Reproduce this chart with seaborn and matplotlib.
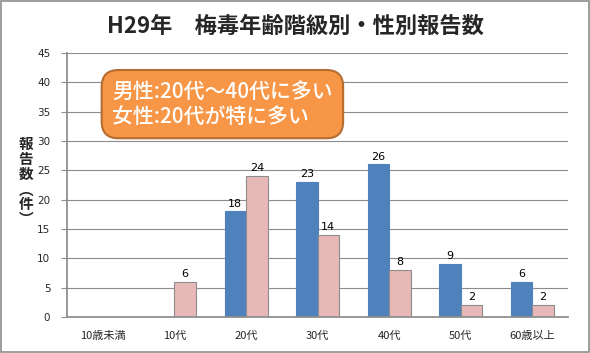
import pandas as pd
import seaborn as sns
import matplotlib.pyplot as plt
from matplotlib.patches import Rectangle

categories = ['10歳未満', '10代', '20代', '30代', '40代', '50代', '60歳以上']
male = [0, 0, 18, 23, 26, 9, 6]
female = [0, 6, 24, 14, 8, 2, 2]
y_ticks = list(range(0, 50, 5))

sns.set_theme(style='white')
plt.rcParams['font.family'] = ['Noto Sans CJK JP', 'DejaVu Sans']

df = pd.DataFrame({
    '年齢': categories * 2,
    '報告数': male + female,
    '性別': ['男性'] * len(categories) + ['女性'] * len(categories),
})

fig = plt.figure(figsize=(5.9, 3.53), dpi=100)
ax = fig.add_axes([0.1136, 0.102, 0.8495, 0.748])

sns.barplot(data=df, x='年齢', y='報告数', hue='性別', order=categories,
            hue_order=['男性', '女性'], palette=['#4F81BD', '#E6B9B8'],
            saturation=1, width=0.6, gap=0, edgecolor='#8C8C8C', linewidth=0.8,
            legend=False, ax=ax)

# 男性バーは枠なし
for bar in ax.containers[0]:
    bar.set_edgecolor('#4F81BD')

for cont in ax.containers:
    labels = [f'{int(v)}' if v > 0 else '' for v in cont.datavalues]
    ax.bar_label(cont, labels=labels, padding=2, fontsize=8, color='#000000',
                 family=['DejaVu Sans'])

ax.set_ylim(0, 45)
ax.set_yticks(y_ticks)
ax.set_yticklabels([str(t) for t in y_ticks], fontsize=7.5, family=['DejaVu Sans'])
ax.set_xticks(range(len(categories)))
ax.set_xticklabels(categories, fontsize=8)
ax.tick_params(axis='x', length=0, pad=10)
ax.tick_params(axis='y', length=4, width=0.8, color='#8C8C8C', direction='out',
               left=True, pad=8)
ax.set_xlabel('')
ax.set_ylabel('')
ax.yaxis.grid(True, color='#8C8C8C', linewidth=0.8)
ax.set_axisbelow(True)
for side in ['top', 'right']:
    ax.spines[side].set_visible(False)
ax.spines['left'].set_color('#8C8C8C')
ax.spines['bottom'].set_color('#8C8C8C')

fig.text(0.5, 0.925, 'H29年　梅毒年齢階級別・性別報告数', ha='center', va='center',
         fontsize=16, fontweight='bold')

fig.text(0.044, 0.485, '報\n告\n数\n︵\n件\n︶', ha='center', va='center',
         fontsize=10.5, fontweight='bold', linespacing=0.92)

fig.text(0.19, 0.705, '男性:20代～40代に多い\n女性:20代が特に多い',
         ha='left', va='center', fontsize=15, color='white', fontweight='medium',
         linespacing=1.2,
         bbox=dict(boxstyle='round,pad=0.5,rounding_size=0.8', facecolor='#F79646',
                   edgecolor='#B66D31', linewidth=1.5))

fig.patches.append(Rectangle((0.002, 0.003), 0.996, 0.994, transform=fig.transFigure,
                             fill=False, edgecolor='#8C8C8C', linewidth=1.2))

fig.savefig('out.png', dpi=100)
